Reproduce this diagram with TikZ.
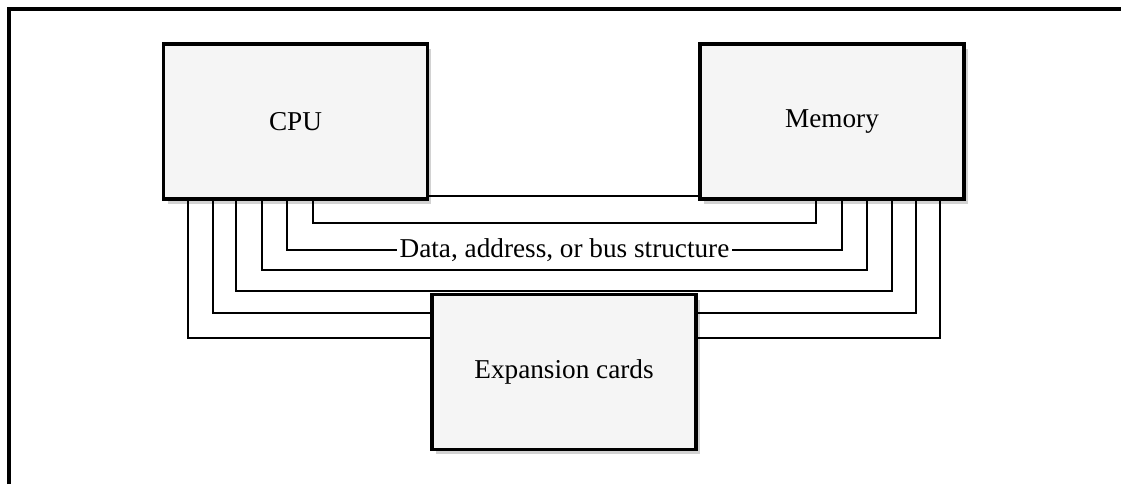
\documentclass[tikz,border=0pt]{standalone}
\usepackage{fontspec}
\setmainfont{Liberation Serif}
\usetikzlibrary{shadows}
\definecolor{boxfill}{HTML}{F5F5F5}
\definecolor{shadowgray}{HTML}{D2D2D2}
\begin{document}
\begin{tikzpicture}[x=0.02cm,y=-0.02cm,
  box/.style={draw=black, line width=1.8pt, fill=boxfill,
    minimum width=5.28cm, minimum height=3.1cm, inner sep=0pt,
    font=\fontsize{15.5}{18}\selectfont,
    drop shadow={shadow xshift=0.08cm, shadow yshift=-0.1cm, fill=shadowgray, opacity=1}},
  bus/.style={draw=black, line width=1.3pt},
  frame/.style={draw=black, line width=2.1pt},
  lbl/.style={fill=white, inner sep=1.5pt, font=\fontsize{15.5}{18}\selectfont}]
\useasboundingbox (0,0) rectangle (1121,484);
\draw[frame] (9,484) -- (9,9) -- (1121,9);

\node[box] (cpu) at (295.5,121.5) {CPU};
\node[box] (mem) at (832,121.5) {Memory};
\node[box] (exp) at (564,372) {Expansion cards};

% short link between CPU and Memory
\draw[bus] (cpu.east |- 0,196) -- (mem.west |- 0,196);

% bus lines
\draw[bus] (313,0 |- cpu.south) -- (313,223) -- (816,223) -- (816,0 |- mem.south);
\draw[bus] (287,0 |- cpu.south) -- (287,250) -- node[lbl] {Data, address, or bus structure} (842,250) -- (842,0 |- mem.south);
\draw[bus] (262,0 |- cpu.south) -- (262,270) -- (867,270) -- (867,0 |- mem.south);
\draw[bus] (236,0 |- cpu.south) -- (236,291) -- (892,291) -- (892,0 |- mem.south);
\draw[bus] (213,0 |- cpu.south) |- (exp.west |- 0,313);
\draw[bus] (exp.east |- 0,313) -| (916,0 |- mem.south);
\draw[bus] (188,0 |- cpu.south) |- (exp.west |- 0,338);
\draw[bus] (exp.east |- 0,338) -| (940,0 |- mem.south);
\end{tikzpicture}
\end{document}
